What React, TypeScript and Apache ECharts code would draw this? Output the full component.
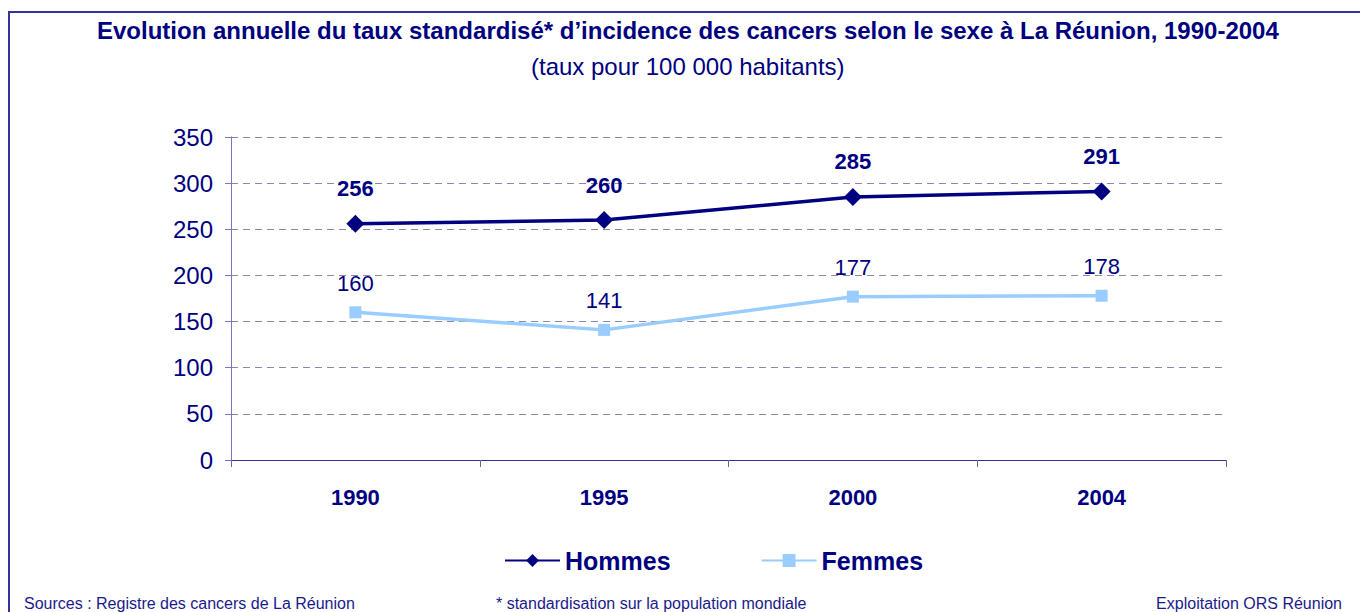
import React, { useEffect, useRef } from "react";
import * as echarts from "echarts";

const years = ["1990", "1995", "2000", "2004"];
const hommes = [256, 260, 285, 291];
const femmes = [160, 141, 177, 178];

const TITLE = "Evolution annuelle du taux standardisé* d\u2019incidence des cancers selon le sexe à La Réunion, 1990-2004";
const SUBTITLE = "(taux pour 100 000 habitants)";
const SOURCE = "Sources : Registre des cancers de La Réunion";
const NOTE = "* standardisation sur la population mondiale";
const CREDIT = "Exploitation ORS Réunion";

const NAVY = "#000080";
const FONT = "'Liberation Sans', Arial, sans-serif";

export default function App() {
  const ref = useRef<HTMLDivElement>(null);
  useEffect(() => {
    if (!ref.current) return;
    const chart = echarts.init(ref.current, null, { renderer: "svg" });
    chart.setOption({
      animation: false,
      backgroundColor: "#ffffff",
      textStyle: { fontFamily: FONT },
      title: [
        {
          text: TITLE,
          left: 92,
          top: 13,
          textStyle: { fontFamily: FONT, fontSize: 24, fontWeight: "bold", color: NAVY },
        },
        {
          text: SUBTITLE,
          left: 526,
          top: 49,
          textStyle: { fontFamily: FONT, fontSize: 24, fontWeight: "normal", color: NAVY },
        },
      ],
      graphic: [
        {
          type: "rect",
          shape: { x: 9, y: 12, width: 1400, height: 700 },
          style: { fill: "none", stroke: "#333399", lineWidth: 2 },
          silent: true,
        },
        {
          type: "text",
          left: 24,
          top: 595,
          style: { text: SOURCE, font: `16px ${FONT}`, fill: "#1a1a8c" },
        },
        {
          type: "text",
          left: 496,
          top: 595,
          style: { text: NOTE, font: `16px ${FONT}`, fill: "#1a1a8c" },
        },
        {
          type: "text",
          right: 18,
          top: 595,
          style: { text: CREDIT, font: `16px ${FONT}`, fill: "#1a1a8c" },
        },
      ],
      legend: {
        left: 499,
        top: 543,
        itemGap: 90,
        itemWidth: 55,
        itemHeight: 16,
        textStyle: { fontFamily: FONT, fontSize: 25, fontWeight: "bold", color: NAVY },
        data: ["Hommes", "Femmes"],
      },
      grid: { left: 231, right: 134, top: 137, bottom: 152 },
      xAxis: {
        type: "category",
        data: years,
        boundaryGap: true,
        axisLine: { lineStyle: { color: "#333399", width: 1 } },
        axisTick: { show: true, length: 7, lineStyle: { color: "#6666aa" } },
        axisLabel: { fontFamily: FONT, fontSize: 22, fontWeight: "bold", color: NAVY, margin: 26 },
      },
      yAxis: {
        type: "value",
        min: 0,
        max: 350,
        interval: 50,
        axisLine: { show: true, lineStyle: { color: "#7777bb", width: 1 } },
        axisTick: { show: true, length: 6, lineStyle: { color: "#7777bb" } },
        axisLabel: { fontFamily: FONT, fontSize: 24, color: NAVY, margin: 18 },
        splitLine: { show: true, lineStyle: { color: "#8888aa", type: [7, 5], width: 1 } },
      },
      series: [
        {
          name: "Hommes",
          type: "line",
          data: hommes,
          symbol: "diamond",
          symbolSize: 18,
          lineStyle: { color: NAVY, width: 3.5 },
          itemStyle: { color: NAVY },
          label: {
            show: true,
            position: "top",
            distance: 15,
            fontFamily: FONT,
            fontSize: 22,
            fontWeight: "bold",
            color: NAVY,
          },
        },
        {
          name: "Femmes",
          type: "line",
          data: femmes,
          symbol: "rect",
          symbolSize: 12,
          lineStyle: { color: "#99ccff", width: 3.5 },
          itemStyle: { color: "#99ccff" },
          label: {
            show: true,
            position: "top",
            distance: 12,
            fontFamily: FONT,
            fontSize: 22,
            fontWeight: "normal",
            color: NAVY,
          },
        },
      ],
    });
    return () => chart.dispose();
  }, []);
  return (
    <div
      ref={ref}
      style={{ position: "fixed", left: 0, top: 0, width: 1360, height: 612 }}
    />
  );
}
